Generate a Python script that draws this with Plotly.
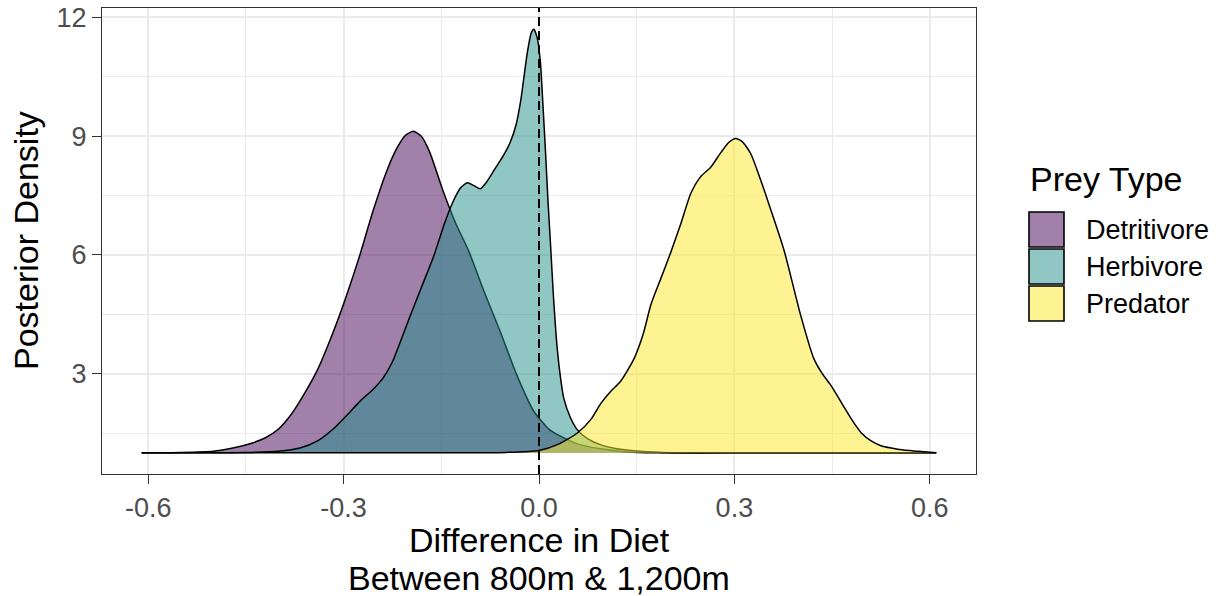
import plotly.graph_objects as go

# ---------------- data ----------------
CATEGORIES = ["Detritivore", "Herbivore", "Predator"]
FILL_COLORS = ["rgba(68,1,84,0.5)", "rgba(33,144,140,0.5)", "rgba(253,231,37,0.5)"]
KEY_COLORS = ["#a080a9", "#90c7c5", "#fef392"]

detritivore_x = [-0.61, -0.55, -0.50, -0.47, -0.44, -0.42, -0.40, -0.38, -0.36, -0.34, -0.316,
                 -0.295, -0.275, -0.255, -0.233, -0.218, -0.205, -0.193, -0.181, -0.168,
                 -0.147, -0.128, -0.108, -0.085, -0.059, -0.035, -0.008, 0.015, 0.033,
                 0.06, 0.095, 0.13, 0.18, 0.30, 0.61]
detritivore_y = [1.0, 1.01, 1.04, 1.12, 1.25, 1.38, 1.6, 1.98, 2.5, 3.1, 4.05,
                 5.0, 6.0, 7.1, 8.15, 8.7, 9.02, 9.12, 9.0, 8.6,
                 7.6, 6.8, 6.1, 5.1, 4.04, 3.0, 2.05, 1.6, 1.42,
                 1.22, 1.1, 1.03, 1.0, 1.0, 1.0]

herbivore_x = [-0.61, -0.50, -0.45, -0.40, -0.367, -0.34, -0.316, -0.295, -0.275, -0.255,
               -0.239, -0.225, -0.213, -0.198, -0.18, -0.162, -0.145, -0.131, -0.12, -0.11,
               -0.10, -0.09, -0.08, -0.069, -0.055, -0.044, -0.035, -0.028, -0.018, -0.012,
               -0.008, -0.003, 0.002, 0.006, 0.01, 0.014, 0.018, 0.022, 0.028, 0.033,
               0.038, 0.048, 0.059, 0.075, 0.095, 0.12, 0.146, 0.19, 0.25, 0.61]
herbivore_y = [1.0, 1.0, 1.01, 1.04, 1.12, 1.3, 1.6, 1.95, 2.3, 2.6,
               2.9, 3.3, 3.8, 4.45, 5.2, 5.95, 6.8, 7.38, 7.7, 7.82,
               7.75, 7.67, 7.85, 8.14, 8.5, 8.85, 9.3, 9.9, 11.1, 11.6,
               11.70, 11.5, 10.9, 9.8, 8.6, 7.3, 6.18, 5.0, 3.63, 2.9,
               2.38, 1.9, 1.58, 1.35, 1.2, 1.1, 1.05, 1.01, 1.0, 1.0]

predator_x = [-0.61, -0.10, -0.05, 0.0, 0.03, 0.059, 0.08, 0.095, 0.11, 0.125,
              0.146, 0.16, 0.172, 0.187, 0.202, 0.218, 0.233, 0.248, 0.264, 0.28,
              0.292, 0.302, 0.312, 0.325, 0.338, 0.351, 0.376, 0.402, 0.422, 0.435, 0.448,
              0.465, 0.479, 0.495, 0.51, 0.525, 0.541, 0.56, 0.582, 0.61]
predator_y = [1.0, 1.0, 1.01, 1.06, 1.22, 1.5, 1.85, 2.25, 2.55, 2.8,
              3.38, 4.0, 4.75, 5.4, 6.05, 6.8, 7.55, 7.97, 8.22, 8.6,
              8.85, 8.94, 8.86, 8.56, 8.0, 7.38, 6.13, 4.46, 3.38, 3.0, 2.71,
              2.25, 1.87, 1.5, 1.3, 1.18, 1.12, 1.07, 1.04, 1.0]

SERIES_X = [detritivore_x, herbivore_x, predator_x]
SERIES_Y = [detritivore_y, herbivore_y, predator_y]

X_TICKS = [-0.6, -0.3, 0.0, 0.3, 0.6]
X_TICK_LABELS = ["-0.6", "-0.3", "0.0", "0.3", "0.6"]
Y_TICKS = [3, 6, 9, 12]
Y_TICK_LABELS = ["3", "6", "9", "12"]
REF_X = 0.0

X_TITLE_LINES = ["Difference in Diet", "Between 800m & 1,200m"]
Y_TITLE = "Posterior Density"
LEGEND_TITLE = "Prey Type"

# ---------------- layout geometry ----------------
W, H = 1222, 596
PL, PR, PT, PB = 102, 976, 8, 474  # panel edges in pixels
FONT = "Liberation Sans, Arial, Helvetica, sans-serif"


def px_x(p):
    return (p - PL) / (PR - PL)


def px_y(p):
    return (PB - p) / (PB - PT)


all_x = [v for s in SERIES_X for v in s]
all_y = [v for s in SERIES_Y for v in s]
xmin, xmax = min(all_x), max(all_x)
ymin, ymax = min(all_y), max(all_y)
xpad = 0.05 * (xmax - xmin)
ypad = 0.05 * (ymax - ymin)

fig = go.Figure()
for name, xs, ys, fc in zip(CATEGORIES, SERIES_X, SERIES_Y, FILL_COLORS):
    fig.add_trace(go.Scatter(
        x=xs, y=ys, name=name, mode="lines", fill="toself", fillcolor=fc,
        line=dict(color="black", width=1.5, shape="spline", smoothing=0.6),
        showlegend=False, hoverinfo="skip"))

fig.add_shape(type="line", xref="x", yref="paper", x0=REF_X, x1=REF_X, y0=0, y1=1,
              line=dict(color="black", width=2, dash="9px,5px"), layer="above")

grid = "#ebebeb"
axis_common = dict(
    showgrid=True, gridcolor=grid, gridwidth=1.6, zeroline=False, automargin=False,
    showline=True, linecolor="#333333", linewidth=1.2, mirror=True,
    ticks="outside", ticklen=9, tickwidth=1.4, tickcolor="#333333",
    tickfont=dict(family=FONT, size=27, color="#4d4d4d"))
fig.update_xaxes(
    range=[xmin - xpad, xmax + xpad], tickvals=X_TICKS, ticktext=X_TICK_LABELS,
    minor=dict(tickvals=[-0.45, -0.15, 0.15, 0.45], showgrid=True, gridcolor=grid,
               gridwidth=0.9, ticks=""), **axis_common)
fig.update_yaxes(
    range=[ymin - ypad, ymax + ypad], tickvals=Y_TICKS, ticktext=Y_TICK_LABELS,
    minor=dict(tickvals=[1.5, 4.5, 7.5, 10.5], showgrid=True, gridcolor=grid,
               gridwidth=0.9, ticks=""), **axis_common)

annotations = []
annotations.append(dict(text=Y_TITLE, xref="paper", yref="paper", x=px_x(26), y=0.5,
                        xanchor="center", yanchor="middle", textangle=-90, showarrow=False,
                        font=dict(family=FONT, size=34, color="black")))
for line, ypx in zip(X_TITLE_LINES, [540, 578]):
    annotations.append(dict(text=line, xref="paper", yref="paper", x=0.5, y=px_y(ypx),
                            xanchor="center", yanchor="middle", showarrow=False,
                            font=dict(family=FONT, size=34, color="black")))
annotations.append(dict(text=LEGEND_TITLE, xref="paper", yref="paper", x=px_x(1028), y=px_y(179),
                        xanchor="left", yanchor="middle", showarrow=False,
                        font=dict(family=FONT, size=34, color="black")))

shapes = []
key_left, key_size, key_pitch, key_top = 1029, 35, 37, 212
for i, (name, kc) in enumerate(zip(CATEGORIES, KEY_COLORS)):
    top = key_top + i * key_pitch
    shapes.append(dict(type="rect", xref="paper", yref="paper",
                       x0=px_x(key_left), x1=px_x(key_left + key_size),
                       y0=px_y(top + key_size), y1=px_y(top),
                       fillcolor=kc, line=dict(color="black", width=1.6)))
    annotations.append(dict(text=name, xref="paper", yref="paper", x=px_x(1084),
                            y=px_y(top + key_size / 2), xanchor="left", yanchor="middle",
                            showarrow=False, font=dict(family=FONT, size=27, color="black")))

for s in shapes:
    fig.add_shape(**s)

fig.update_layout(
    width=W, height=H, autosize=False,
    margin=dict(l=PL, r=W - PR, t=PT, b=H - PB, pad=0),
    paper_bgcolor="white", plot_bgcolor="white",
    annotations=annotations, showlegend=False,
    font=dict(family=FONT))

fig.write_html("out.html")
